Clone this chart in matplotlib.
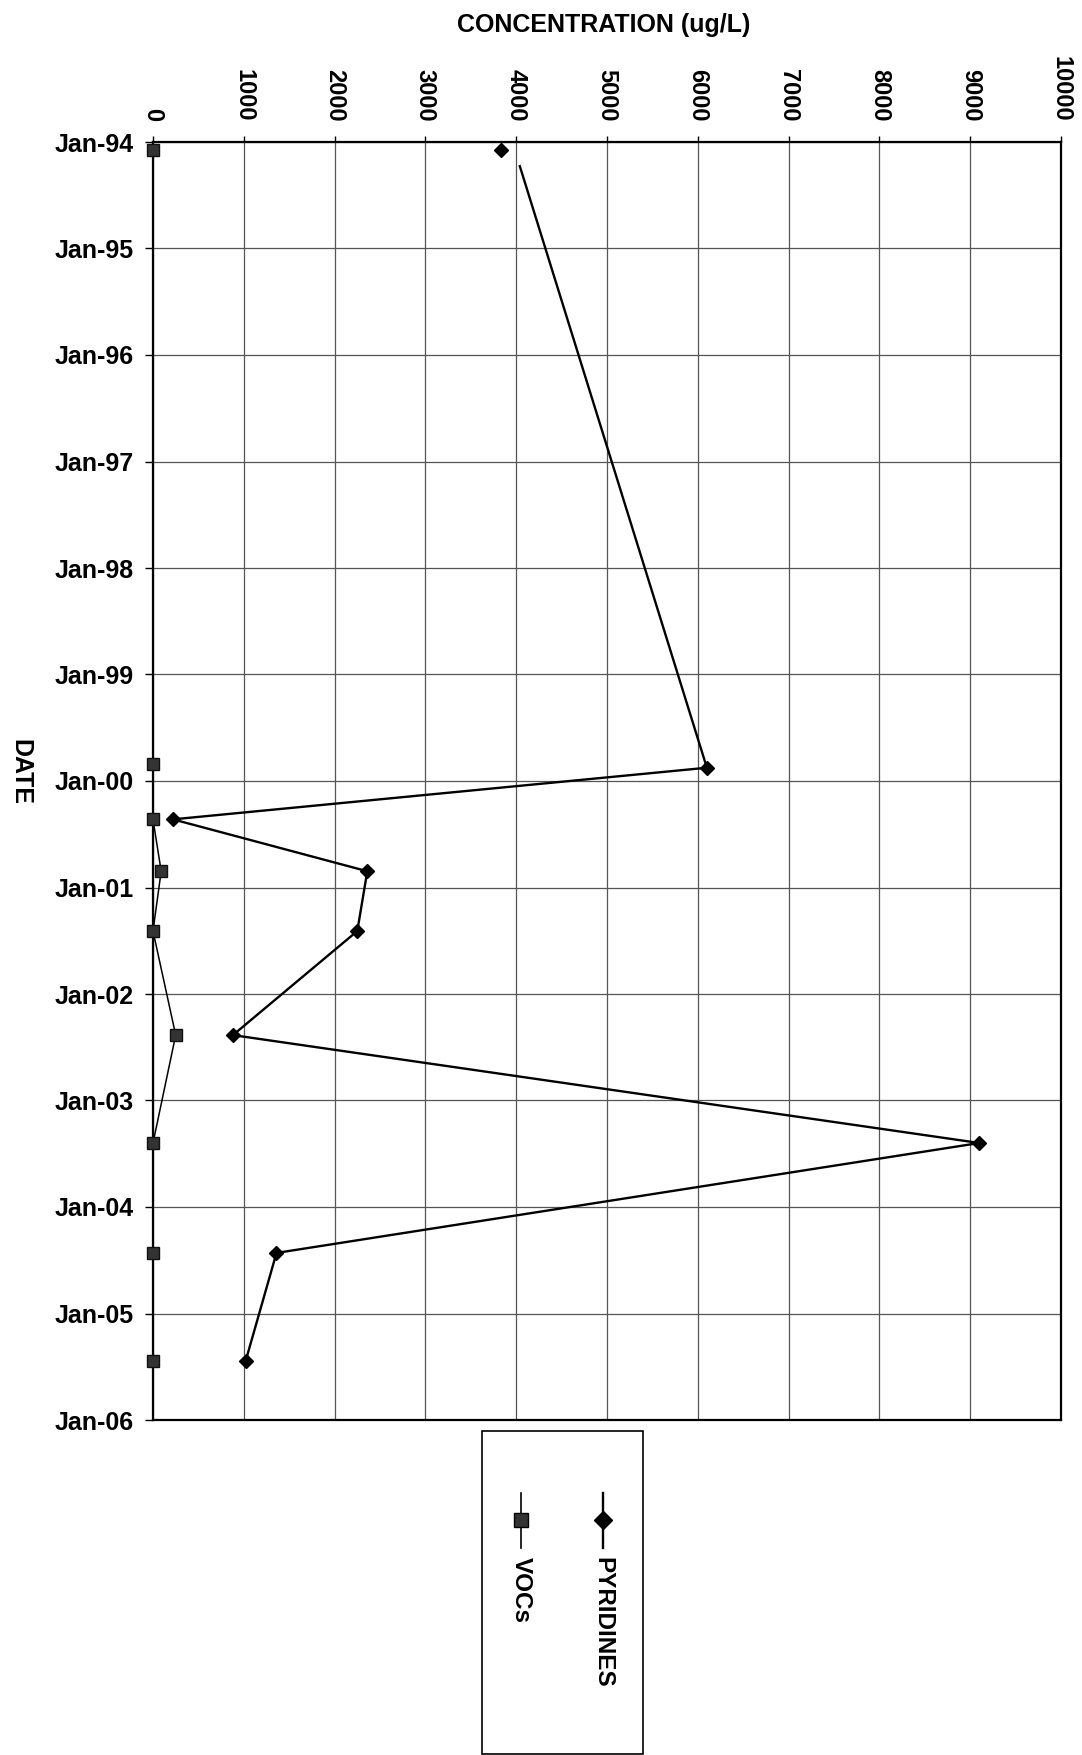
import matplotlib
matplotlib.use("Agg")
import matplotlib.pyplot as plt
import matplotlib.dates as mdates
import pandas as pd
from matplotlib.lines import Line2D
from matplotlib.patches import Rectangle

plt.rcParams['font.family'] = ['Liberation Sans', 'DejaVu Sans']

# sample dates and concentrations (ug/L)
pyr_dates = ['1994-01-30', '1999-11-17', '2000-05-12', '2000-11-06', '2001-05-30',
             '2002-05-22', '2003-05-27', '2004-06-07', '2005-06-13']
pyr_vals = [3830, 6100, 220, 2360, 2250, 880, 9100, 1360, 1020]
# in the scan the pyridine trace starts a little below/right of the first marker
pyr_trace_start = ('1994-03-25', 4040)

voc_dates = ['1994-01-30', '1999-11-05', '2000-05-12', '2000-11-06', '2001-05-30',
             '2002-05-22', '2003-05-27', '2004-06-07', '2005-06-13']
voc_vals = [0, 0, 0, 90, 0, 250, 0, 0, 0]

year_ticks = list(range(1994, 2007))
conc_ticks = list(range(0, 10001, 1000))

W, H = 1082, 1755
fig = plt.figure(figsize=(W / 100, H / 100), dpi=100)
fig.patch.set_facecolor('white')

left, right, top, bottom = 153, 1061, 142, 1420
ax = fig.add_axes([left / W, 1 - bottom / H, (right - left) / W, (bottom - top) / H])

pd_pyr = pd.to_datetime(pyr_dates)
pd_voc = pd.to_datetime(voc_dates)

# pyridines: trace then markers
trace_x = [pyr_trace_start[1]] + pyr_vals[1:]
trace_y = [pd.Timestamp(pyr_trace_start[0])] + list(pd_pyr[1:])
ax.plot(trace_x, trace_y, color='black', lw=1.7, zorder=4)
ax.plot(pyr_vals, pd_pyr, ls='none', marker='D', ms=7.5,
        mfc='black', mec='black', clip_on=False, zorder=5)

ax.plot(voc_vals, pd_voc, color='black', lw=1.1, marker='s', ms=9,
        mfc='#333333', mec='#111111', clip_on=False, zorder=3)

ax.set_xlim(0, 10000)
ax.set_ylim(pd.Timestamp('2006-01-01'), pd.Timestamp('1994-01-01'))

ax.xaxis.tick_top()
ax.set_xticks(conc_ticks)
ax.set_xticklabels([str(v) for v in conc_ticks], rotation=-90, fontsize=17,
                   fontweight='bold')
ax.set_yticks([pd.Timestamp(f'{y}-01-01') for y in year_ticks])
ax.yaxis.set_major_formatter(mdates.DateFormatter('%b-%y'))
for lab in ax.get_yticklabels():
    lab.set_fontweight('bold')
    lab.set_fontsize(18)

ax.tick_params(axis='x', direction='out', length=4, width=1, pad=11)
ax.tick_params(axis='y', direction='out', length=6, width=1, pad=8)

ax.grid(True, color='#555555', lw=0.9)
ax.set_axisbelow(True)
for side in ['top', 'bottom', 'left', 'right']:
    ax.spines[side].set_linewidth(1.6)
    ax.spines[side].set_color('black')

fig.text(604 / W, 1 - 25 / H, 'CONCENTRATION (ug/L)', ha='center', va='center',
         fontsize=18, fontweight='bold')
fig.text(20 / W, 1 - 772 / H, 'DATE', rotation=-90, ha='center', va='center',
         fontsize=18, fontweight='bold')

# legend box, turned like the rest of the page
fig.add_artist(Rectangle((482 / W, 1 - 1754 / H), 161 / W, (1754 - 1431) / H,
                         transform=fig.transFigure, fill=False, ec='black', lw=1.2))
entries = [(603, 'PYRIDINES', 'D', 9, 1.7), (521, 'VOCs', 's', 10, 1.2)]
for x, name, mk, ms, lw in entries:
    fig.add_artist(Line2D([x / W, x / W], [1 - 1493 / H, 1 - 1548 / H],
                          transform=fig.transFigure, color='black', lw=lw))
    fig.add_artist(Line2D([x / W], [1 - 1520 / H], transform=fig.transFigure,
                          marker=mk, ms=ms, mfc='black' if mk == 'D' else '#333333',
                          mec='black', ls='none'))
    fig.text(x / W, 1 - 1557 / H, name, rotation=-90, ha='center', va='top',
             fontsize=17.5, fontweight='bold')

fig.savefig('out.png', dpi=100, facecolor='white')
